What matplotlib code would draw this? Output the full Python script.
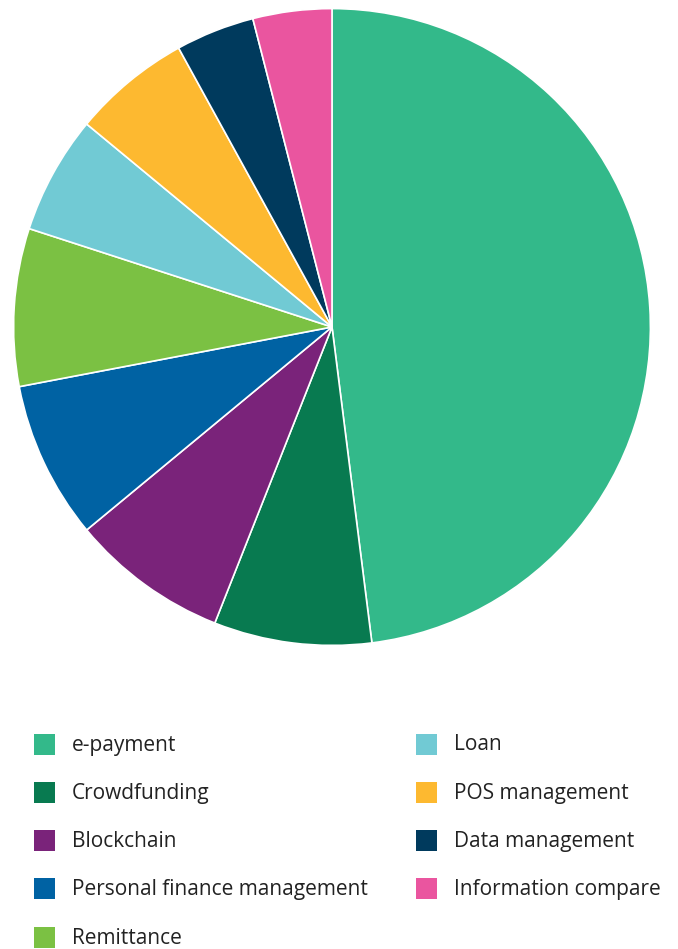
import matplotlib.pyplot as plt
from matplotlib.patches import Rectangle

# data
categorias = ["e-payment", "Crowdfunding", "Blockchain", "Personal finance management",
              "Remittance", "Loan", "POS management", "Data management", "Information compare"]
valores = [24, 4, 4, 4, 4, 3, 3, 2, 2]
cores = ["#33b98a", "#087a50", "#7a237a", "#0062a3", "#7bc143",
         "#71cad4", "#fdb930", "#003a5d", "#ea559f"]

W, H = 678, 949
fig = plt.figure(figsize=(W / 100, H / 100), dpi=100)

# pizza
ax = fig.add_axes([12 / W, (H - 647) / H, 640 / W, 640 / H])
ax.pie(valores, colors=cores, startangle=90, counterclock=False, radius=1,
       wedgeprops=dict(edgecolor="white", linewidth=1.2))
ax.set_xlim(-1.005, 1.005)
ax.set_ylim(-1.005, 1.005)
ax.set_aspect("equal")
ax.axis("off")

# legenda manual em duas colunas
col_x = [(34, 72), (416, 454)]
y0 = 744
passo = 48.3
for i, (nome, cor) in enumerate(zip(categorias, cores)):
    col = 0 if i < 5 else 1
    lin = i if i < 5 else i - 5
    mx, tx = col_x[col]
    y = y0 + lin * passo
    fig.patches.append(Rectangle((mx / W, (H - y - 10.5) / H), 21 / W, 21 / H,
                                 transform=fig.transFigure, facecolor=cor, edgecolor="none"))
    fig.text(tx / W, (H - y - 1) / H, nome, fontsize=15, family="Open Sans",
             color="#222222", va="center", ha="left")

fig.savefig("out.png", dpi=100)
